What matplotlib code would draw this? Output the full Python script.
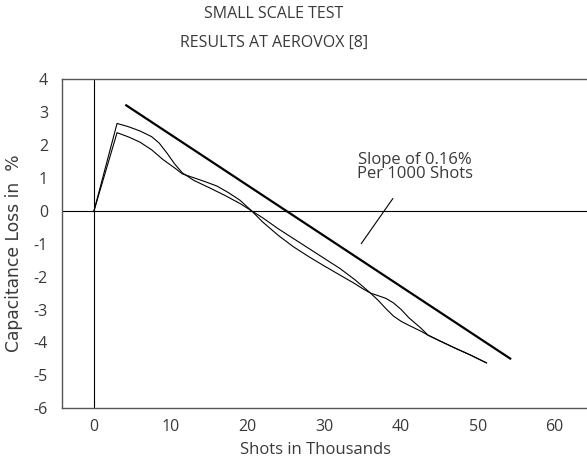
import numpy as np
import matplotlib
matplotlib.use("Agg")
import matplotlib.pyplot as plt

plt.rcParams['font.family'] = ['Open Sans', 'DejaVu Sans']
plt.rcParams['axes.unicode_minus'] = False

# values (thousands of shots, % loss)
shots_a = [0, 3, 4.5, 6, 7.5, 8.5, 9.5, 10.5, 11.5, 13, 15, 17, 19, 20.5,
           22, 24, 26, 28, 30, 32, 34, 35, 36, 37, 38, 39, 40, 41, 42.5,
           43.5, 45, 47, 49, 51.1]
loss_a = [0, 2.65, 2.55, 2.42, 2.25, 2.05, 1.75, 1.42, 1.15, 0.92, 0.7,
          0.47, 0.22, 0, -0.22, -0.55, -0.85, -1.15, -1.45, -1.75, -2.1,
          -2.3, -2.5, -2.72, -2.97, -3.2, -3.36, -3.48, -3.65, -3.78, -3.95,
          -4.17, -4.38, -4.62]

shots_b = [0, 3, 4.5, 6, 7.5, 9, 10.5, 11.5, 13, 14.5, 16, 17.5, 19, 20.5,
           22, 24, 26, 28, 30, 32, 34, 35, 36, 37, 38, 39, 40, 41, 42.5,
           43.5, 45, 47, 49, 51.1]
loss_b = [0, 2.37, 2.24, 2.08, 1.85, 1.55, 1.3, 1.12, 1.0, 0.88, 0.75,
          0.55, 0.32, 0, -0.35, -0.75, -1.1, -1.4, -1.68, -1.95, -2.22,
          -2.37, -2.5, -2.58, -2.66, -2.8, -3.0, -3.25, -3.55, -3.78, -3.95,
          -4.17, -4.38, -4.62]

fit_x = [4.2, 54.2]
fit_y = [3.2, -4.49]

xticks = [0, 10, 20, 30, 40, 50, 60]
yticks = [4, 3, 2, 1, 0, -1, -2, -3, -4, -5, -6]

fig = plt.figure(figsize=(5.87, 4.62), dpi=100)
ax = fig.add_axes([62 / 587, 1 - 408.3 / 462, 525 / 587, (408.3 - 79) / 462])

grey = '#3a3a3a'
ax.plot(shots_a, loss_a, color='black', lw=0.8)
ax.plot(shots_b, loss_b, color='black', lw=0.8)
ax.plot(fit_x, fit_y, color='black', lw=1.6)

ax.axhline(0, color='black', lw=0.8)
ax.axvline(0, color='black', lw=0.8)

ax.annotate('Slope of 0.16%\nPer 1000 Shots', xy=(34.8, -1.0), xytext=(41.8, 1.33),
            ha='center', va='center', fontsize=12, color=grey, linespacing=0.85,
            arrowprops=dict(arrowstyle='-', color='black', lw=0.8,
                            shrinkA=12, shrinkB=0))

ax.set_xlim(-4.17, 64.2)
ax.set_ylim(-6, 4)
ax.set_xticks(xticks)
ax.set_yticks(yticks)
ax.tick_params(length=0, labelsize=11.5, labelcolor=grey, pad=8)
ax.tick_params(axis='y', pad=10)

for s in ['left', 'top', 'bottom']:
    ax.spines[s].set_color('#555555')
    ax.spines[s].set_linewidth(1.0)
ax.spines['right'].set_visible(False)

ax.set_ylabel('Capacitance Loss in  %', fontsize=12.3, color=grey,
              family=['DejaVu Sans'])
ax.yaxis.set_label_coords(-0.074, 0.47)

fig.text(315 / 587, 1 - 450 / 462, 'Shots in Thousands', ha='center', va='center',
         fontsize=12, color=grey)
fig.text(274 / 587, 1 - 14 / 462, 'SMALL SCALE TEST', ha='center', va='center',
         fontsize=11.5, color=grey)
fig.text(274 / 587, 1 - 43 / 462, 'RESULTS AT AEROVOX [8]', ha='center', va='center',
         fontsize=11.5, color=grey)

fig.savefig('out.png', dpi=100)
